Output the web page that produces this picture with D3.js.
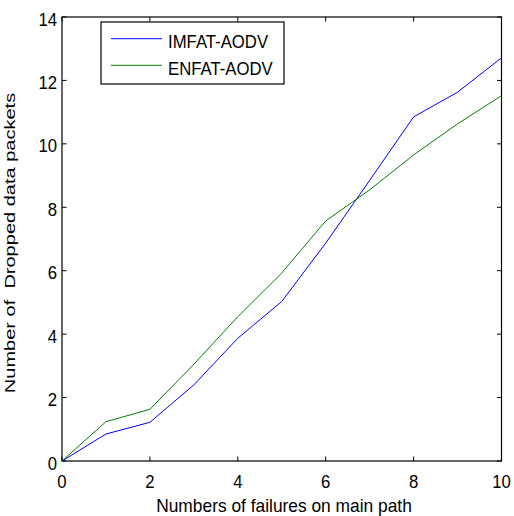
<!DOCTYPE html>
<html>
<head>
<meta charset="utf-8">
<script src="https://cdn.jsdelivr.net/npm/d3@7"></script>
<style>
  html, body { margin: 0; padding: 0; background: #fff; }
  svg { display: block; }
  text { font-family: "Liberation Sans", Arial, sans-serif; fill: #000; }
</style>
</head>
<body>
<svg id="chart" width="514" height="516"></svg>
<script>
// Failures on the main path (x) and dropped data packets per protocol
const failures = [0, 1, 2, 3, 4, 5, 6, 7, 8, 9, 10];
const imfatAodv = [0, 0.85, 1.22, 2.4, 3.87, 5.03, 6.87, 8.85, 10.85, 11.63, 12.71];
const enfatAodv = [0, 1.24, 1.63, 3.05, 4.55, 5.93, 7.57, 8.55, 9.65, 10.63, 11.52];
const xTicks = [0, 2, 4, 6, 8, 10];
const yTicks = [0, 2, 4, 6, 8, 10, 12, 14];
const seriesNames = ["IMFAT-AODV", "ENFAT-AODV"];
const seriesColors = ["#0000ff", "#008000"];

const svg = d3.select("#chart");
const plotL = 62, plotR = 501.5, plotT = 17, plotB = 461;

const x = d3.scaleLinear().domain([0, 10]).range([plotL, plotR]);
const y = d3.scaleLinear().domain([0, 14]).range([plotB, plotT]);

// text helper: label with its own size and stretch along the reading direction
function label(g, tx, ty, str, anchor, opts = {}) {
  const fs = opts.fs || 18, sx = opts.sx || 0.93;
  const t = g.append("g")
    .attr("transform", `translate(${tx},${ty})` + (opts.rotate ? ` rotate(${opts.rotate})` : "") + ` scale(${sx},1)`);
  t.append("text")
    .attr("font-size", fs)
    .attr("text-anchor", anchor)
    .style("white-space", "pre")
    .text(str);
  return t;
}

// plot box
svg.append("rect")
  .attr("x", plotL).attr("y", plotT)
  .attr("width", plotR - plotL).attr("height", plotB - plotT)
  .attr("fill", "none").attr("stroke", "#000").attr("stroke-width", 1.2);

// inward ticks on all four sides
const tl = 4.5;
const ticks = svg.append("g").attr("stroke", "#000").attr("stroke-width", 1);
xTicks.forEach(v => {
  ticks.append("line").attr("x1", x(v)).attr("x2", x(v)).attr("y1", plotB).attr("y2", plotB - tl);
  ticks.append("line").attr("x1", x(v)).attr("x2", x(v)).attr("y1", plotT).attr("y2", plotT + tl);
});
yTicks.forEach(v => {
  ticks.append("line").attr("x1", plotL).attr("x2", plotL + tl).attr("y1", y(v)).attr("y2", y(v));
  ticks.append("line").attr("x1", plotR).attr("x2", plotR - tl).attr("y1", y(v)).attr("y2", y(v));
});

// tick labels
const lbl = svg.append("g");
xTicks.forEach(v => label(lbl, x(v), 488, String(v), "middle"));
yTicks.forEach(v => label(lbl, 57, y(v) + 8.5, String(v), "end"));

// axis titles
label(lbl, 284, 512, "Numbers of failures on main path", "middle", { sx: 0.965 });
label(lbl, 14.5, 243, "Number of  Dropped data packets", "middle", { rotate: -90, fs: 14, sx: 1.43 });

// series lines
const line = d3.line().x((d, i) => x(failures[i])).y(d => y(d));
[imfatAodv, enfatAodv].forEach((s, k) => {
  svg.append("path")
    .datum(s)
    .attr("d", line)
    .attr("fill", "none")
    .attr("stroke", seriesColors[k])
    .attr("stroke-width", 1);
});

// legend
const lg = svg.append("g");
lg.append("rect")
  .attr("x", 101).attr("y", 22).attr("width", 183).attr("height", 62)
  .attr("fill", "#fff").attr("stroke", "#000").attr("stroke-width", 1.2);
seriesNames.forEach((n, k) => {
  const ly = 38.7 + k * 26.6;
  lg.append("line").attr("x1", 111).attr("x2", 162).attr("y1", ly).attr("y2", ly)
    .attr("stroke", seriesColors[k]).attr("stroke-width", 1);
  label(lg, 168, ly + 9.6, n, "start");
});
</script>
</body>
</html>
